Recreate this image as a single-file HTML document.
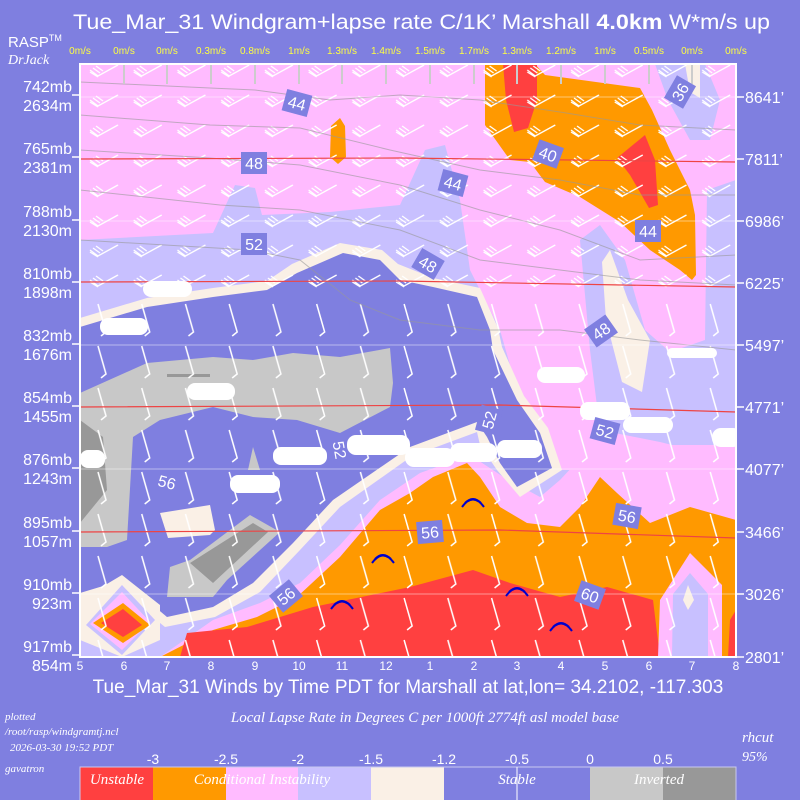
<!DOCTYPE html>
<html><head><meta charset="utf-8"><style>
html,body{margin:0;padding:0;background:#7f7fe0;}
svg{display:block;font-family:"Liberation Sans",sans-serif;}
.it{font-family:"Liberation Serif",serif;font-style:italic;}
</style></head><body>
<svg width="800" height="800" viewBox="0 0 800 800" xmlns="http://www.w3.org/2000/svg">
<defs>
<clipPath id="pc"><rect x="80" y="64" width="656" height="593"/></clipPath>
<pattern id="b1" x="80" y="90" width="43.73" height="30" patternUnits="userSpaceOnUse">
<path d="M10,10 L18,16 L38,5 M13,8 L20,13 M10,12 L18,17 M16,6 L23,11" stroke="#fff" stroke-width="1.3" fill="none"/>
</pattern>
<pattern id="b2" x="80" y="300" width="43.73" height="42" patternUnits="userSpaceOnUse">
<path d="M18,4 L26,32 L21,36" stroke="#fff" stroke-width="1.5" fill="none"/>
</pattern>
</defs>
<rect width="800" height="800" fill="#7f7fe0"/>
<text x="73" y="29" fill="#fff" font-size="21" textLength="697" lengthAdjust="spacingAndGlyphs">Tue_Mar_31 Windgram+lapse rate C/1K’  Marshall <tspan font-weight="bold">4.0km</tspan>  W*m/s up</text>
<text x="8" y="47" fill="#fff" font-size="15">RASP<tspan font-size="9" dy="-6">TM</tspan></text>
<text x="8" y="64" fill="#fff" font-size="14" class="it">DrJack</text>
<g fill="#ffff40" font-size="10" text-anchor="middle">
<text x="80" y="54">0m/s</text><text x="124" y="54">0m/s</text><text x="167" y="54">0m/s</text><text x="211" y="54">0.3m/s</text><text x="255" y="54">0.8m/s</text><text x="299" y="54">1m/s</text><text x="342" y="54">1.3m/s</text><text x="386" y="54">1.4m/s</text><text x="430" y="54">1.5m/s</text><text x="474" y="54">1.7m/s</text><text x="517" y="54">1.3m/s</text><text x="561" y="54">1.2m/s</text><text x="605" y="54">1m/s</text><text x="649" y="54">0.5m/s</text><text x="692" y="54">0m/s</text><text x="736" y="54">0m/s</text>
</g>
<g clip-path="url(#pc)">
<rect x="80" y="64" width="656" height="593" fill="#ffbbff"/>
<polygon fill="#c8c0ff" points="80,240 213,233 235,185 255,188 262,215 330,212 400,205 425,150 445,145 460,200 470,270 500,330 520,400 545,470 736,470 736,657 80,657"/>
<polygon fill="#c8c0ff" points="580,240 600,225 625,260 645,330 670,352 705,340 707,190 736,180 736,440 700,452 660,442 600,430 590,350"/>
<polygon fill="#c8c0ff" points="655,64 705,64 720,100 710,140 690,140 668,100"/>
<polygon fill="#faf0e6" points="685,64 700,64 700,98 690,92"/>
<polygon fill="#faf0e6" points="602,262 610,250 628,300 650,340 642,392 622,382 606,320"/>
<polygon fill="#ffbbff" points="160,657 213,620 260,603 300,583 340,545 380,500 420,473 470,455 505,478 540,497 560,480 590,448 640,445 736,445 736,657"/>
<polygon fill="#ff9900" points="485,64 535,64 545,75 640,88 652,110 670,150 690,190 695,215 696,275 692,280 680,270 650,250 620,222 580,197 545,182 530,162 510,160 485,125"/>
<polygon fill="#ff4040" points="503,64 537,64 537,100 528,128 514,132 506,100"/>
<polygon fill="#ff4040" points="617,158 645,135 655,160 658,205 649,208 630,175"/>
<polygon fill="#ff9900" points="331,126 340,118 345,126 346,157 338,164 330,157"/>
<polygon fill="#ff9900" points="160,657 213,630 257,617 297,597 340,557 380,510 410,493 433,477 467,463 480,477 500,507 527,523 560,527 580,507 600,477 617,493 650,523 690,507 736,520 736,657"/>
<polygon fill="#ff4040" points="180,657 187,633 247,627 313,607 410,587 473,570 510,583 560,597 607,587 653,600 660,657"/>
<polygon fill="#ff4040" points="730,620 736,610 736,657 728,657"/>
<polygon fill="#ffbbff" points="658,657 660,600 690,553 722,585 722,657"/>
<polygon fill="#c8c0ff" points="672,657 673,594 690,573 708,594 708,657"/>
<polygon fill="#faf0e6" points="683,600 688,585 694,600 688,610"/>
<polygon fill="#faf0e6" points="80,318 147,298 213,288 267,281 292,264 340,243 382,250 398,264 433,278 480,288 498,328 502,347 524,396 548,428 562,470 520,497 497,470 480,445 477,432 412,456 340,507 300,550 260,592 215,617 165,627 123,593 80,603"/>
<polygon fill="#7f7fe0" points="80,327 147,307 213,297 267,290 297,273 343,253 380,260 393,273 400,280 433,287 477,297 490,330 493,350 517,400 540,433 552,468 517,487 500,463 487,437 477,422 410,447 333,500 293,543 253,583 213,607 167,617 123,580 80,593"/>
<polygon fill="#c8c8c8" points="80,393 147,363 213,357 253,360 293,353 340,357 390,348 393,383 390,407 340,433 297,420 253,417 213,407 160,420 133,437 127,540 107,547 80,547"/>
<polygon fill="#989898" points="80,420 103,437 107,490 80,523"/>
<rect x="167" y="374" width="43" height="3" fill="#989898"/>
<polygon fill="#c8c8c8" points="190,560 250,515 280,532 227,580 213,597 167,597 170,567"/>
<polygon fill="#989898" points="190,563 253,523 268,532 213,583"/>
<polygon fill="#faf0e6" points="160,513 210,505 215,530 210,535 168,538"/>
<polygon fill="#c8c8c8" points="248,470 253,447 260,470"/>
<polygon fill="#faf0e6" points="80,600 122,575 160,605 160,640 122,657 80,640"/>
<polygon fill="#c8c0ff" points="86,625 122,585 155,620 122,655"/>
<polygon fill="#ffbbff" points="90,624 122,592 150,622 122,650"/>
<polygon fill="#ff9900" points="93,623 123,603 150,625 123,643"/>
<polygon fill="#ff4040" points="101,623 123,609 142,625 123,637"/>
<rect x="80" y="64" width="656" height="236" fill="url(#b1)"/>
<rect x="80" y="300" width="656" height="357" fill="url(#b2)"/>
<g stroke="#999" stroke-width="1" fill="none" opacity="0.6">
<polyline points="80,82 210,88 255,90 330,100 400,95 480,100 560,112 640,125 736,130"/>
<polyline points="80,115 210,125 300,128 390,150 480,170 560,180 640,195 736,195"/>
<polyline points="80,150 210,158 300,165 400,185 480,210 560,230 640,260 736,255"/>
<polyline points="80,190 220,205 300,210 400,230 480,260 560,270 640,280 736,285"/>
<polyline points="80,240 250,250 300,260 350,300 400,320 480,330 560,330 640,340 736,350"/>
</g>
<g stroke="#ee4444" stroke-width="1.2" fill="none">
<polyline points="80,159 400,158 736,162"/>
<polyline points="80,282 400,281 736,287"/>
<polyline points="80,407 500,405 736,412"/>
<polyline points="80,532 500,530 736,538"/>
</g>
<g stroke="#fff" stroke-width="0.8" opacity="0.6">
<line x1="80" y1="97" x2="736" y2="97"/><line x1="80" y1="221" x2="736" y2="221"/><line x1="80" y1="345" x2="736" y2="345"/><line x1="80" y1="469" x2="736" y2="469"/><line x1="80" y1="594" x2="736" y2="594"/>
</g>
<g stroke="#ccc" stroke-width="2">
<line x1="124" y1="64" x2="124" y2="84"/><line x1="167" y1="64" x2="167" y2="84"/><line x1="211" y1="64" x2="211" y2="84"/><line x1="255" y1="64" x2="255" y2="84"/><line x1="299" y1="64" x2="299" y2="84"/><line x1="342" y1="64" x2="342" y2="84"/><line x1="386" y1="64" x2="386" y2="84"/><line x1="430" y1="64" x2="430" y2="84"/><line x1="474" y1="64" x2="474" y2="84"/><line x1="517" y1="64" x2="517" y2="84"/><line x1="561" y1="64" x2="561" y2="84"/><line x1="605" y1="64" x2="605" y2="84"/><line x1="649" y1="64" x2="649" y2="84"/><line x1="692" y1="64" x2="692" y2="84"/>
</g>
<g fill="#fff">
<rect x="100" y="318" width="48" height="17" rx="8"/><rect x="143" y="281" width="49" height="16" rx="8"/><rect x="187" y="383" width="48" height="17" rx="8"/><rect x="80" y="450" width="25" height="18" rx="8"/><rect x="230" y="475" width="50" height="18" rx="8"/><rect x="273" y="447" width="54" height="18" rx="8"/><rect x="347" y="435" width="63" height="20" rx="9"/><rect x="537" y="367" width="48" height="16" rx="8"/><rect x="405" y="448" width="50" height="19" rx="9"/><rect x="450" y="443" width="47" height="19" rx="9"/><rect x="497" y="440" width="45" height="18" rx="8"/><rect x="580" y="402" width="50" height="18" rx="8"/><rect x="623" y="417" width="50" height="16" rx="8"/><rect x="712" y="428" width="30" height="19" rx="9"/><rect x="667" y="348" width="50" height="10" rx="5"/>
</g>
<g stroke="#0000cc" stroke-width="2" fill="none">
<path d="M462,507 Q473,492 484,507 M465,503 Q473,495 481,503"/>
<path d="M372,563 Q383,548 394,563 M375,559 Q383,551 391,559"/>
<path d="M331,609 Q342,594 353,609 M334,605 Q342,597 350,605"/>
<path d="M506,596 Q517,581 528,596 M509,592 Q517,584 525,592"/>
<path d="M550,631 Q561,616 572,631 M553,627 Q561,619 569,627"/>
</g>
<g font-size="16" fill="#fff" text-anchor="middle">
<g transform="translate(297,103) rotate(15)"><rect x="-13" y="-11" width="26" height="22" fill="#7f7fe0"/><text y="6">44</text></g>
<g transform="translate(254,163)"><rect x="-13" y="-11" width="26" height="22" fill="#7f7fe0"/><text y="6">48</text></g>
<g transform="translate(254,244)"><rect x="-13" y="-11" width="26" height="22" fill="#7f7fe0"/><text y="6">52</text></g>
<g transform="translate(548,154) rotate(20)"><rect x="-13" y="-11" width="26" height="22" fill="#7f7fe0"/><text y="6">40</text></g>
<g transform="translate(453,183) rotate(15)"><rect x="-13" y="-11" width="26" height="22" fill="#7f7fe0"/><text y="6">44</text></g>
<g transform="translate(680,92) rotate(-60)"><rect x="-13" y="-11" width="26" height="22" fill="#7f7fe0"/><text y="6">36</text></g>
<g transform="translate(648,231)"><rect x="-13" y="-11" width="26" height="22" fill="#7f7fe0"/><text y="6">44</text></g>
<g transform="translate(428,264) rotate(30)"><rect x="-13" y="-11" width="26" height="22" fill="#7f7fe0"/><text y="6">48</text></g>
<g transform="translate(601,331) rotate(-35)"><rect x="-13" y="-11" width="26" height="22" fill="#7f7fe0"/><text y="6">48</text></g>
<g transform="translate(605,431) rotate(15)"><rect x="-13" y="-11" width="26" height="22" fill="#7f7fe0"/><text y="6">52</text></g>
<g transform="translate(627,516) rotate(10)"><rect x="-13" y="-11" width="26" height="22" fill="#7f7fe0"/><text y="6">56</text></g>
<g transform="translate(590,595) rotate(20)"><rect x="-13" y="-11" width="26" height="22" fill="#7f7fe0"/><text y="6">60</text></g>
<g transform="translate(430,532) rotate(-5)"><rect x="-13" y="-11" width="26" height="22" fill="#7f7fe0"/><text y="6">56</text></g>
<g transform="translate(286,596) rotate(-40)"><rect x="-13" y="-11" width="26" height="22" fill="#7f7fe0"/><text y="6">56</text></g>
<g transform="translate(489,420) rotate(-75)"><rect x="-13" y="-11" width="26" height="22" fill="#7f7fe0"/><text y="6">52</text></g>
<g transform="translate(340,450) rotate(80)"><text y="6">52</text></g>
<g transform="translate(167,482) rotate(15)"><text y="6">56</text></g>
</g>
</g>
<rect x="80" y="64" width="656" height="593" fill="none" stroke="#fff" stroke-width="2"/>
<g stroke="#fff" stroke-width="1.5">
<line x1="72" y1="95" x2="80" y2="95"/><line x1="72" y1="157" x2="80" y2="157"/><line x1="72" y1="220" x2="80" y2="220"/><line x1="72" y1="282" x2="80" y2="282"/><line x1="72" y1="344" x2="80" y2="344"/><line x1="72" y1="406" x2="80" y2="406"/><line x1="72" y1="468" x2="80" y2="468"/><line x1="72" y1="531" x2="80" y2="531"/><line x1="72" y1="593" x2="80" y2="593"/><line x1="72" y1="655" x2="80" y2="655"/>
<line x1="736" y1="97" x2="744" y2="97"/><line x1="736" y1="159" x2="744" y2="159"/><line x1="736" y1="221" x2="744" y2="221"/><line x1="736" y1="283" x2="744" y2="283"/><line x1="736" y1="345" x2="744" y2="345"/><line x1="736" y1="407" x2="744" y2="407"/><line x1="736" y1="469" x2="744" y2="469"/><line x1="736" y1="532" x2="744" y2="532"/><line x1="736" y1="594" x2="744" y2="594"/><line x1="736" y1="657" x2="744" y2="657"/>
</g>
<g fill="#fff" font-size="16" text-anchor="end">
<text x="72" y="92">742mb</text><text x="72" y="111">2634m</text>
<text x="72" y="154">765mb</text><text x="72" y="173">2381m</text>
<text x="72" y="217">788mb</text><text x="72" y="236">2130m</text>
<text x="72" y="279">810mb</text><text x="72" y="298">1898m</text>
<text x="72" y="341">832mb</text><text x="72" y="360">1676m</text>
<text x="72" y="403">854mb</text><text x="72" y="422">1455m</text>
<text x="72" y="465">876mb</text><text x="72" y="484">1243m</text>
<text x="72" y="528">895mb</text><text x="72" y="547">1057m</text>
<text x="72" y="590">910mb</text><text x="72" y="609">923m</text>
<text x="72" y="652">917mb</text><text x="72" y="671">854m</text>
</g>
<g fill="#fff" font-size="16">
<text x="745" y="103">8641’</text><text x="745" y="165">7811’</text><text x="745" y="227">6986’</text><text x="745" y="289">6225’</text><text x="745" y="351">5497’</text><text x="745" y="413">4771’</text><text x="745" y="475">4077’</text><text x="745" y="538">3466’</text><text x="745" y="600">3026’</text><text x="745" y="663">2801’</text>
</g>
<g fill="#fff" font-size="12" text-anchor="middle">
<text x="80" y="670">5</text><text x="124" y="670">6</text><text x="167" y="670">7</text><text x="211" y="670">8</text><text x="255" y="670">9</text><text x="299" y="670">10</text><text x="342" y="670">11</text><text x="386" y="670">12</text><text x="430" y="670">1</text><text x="474" y="670">2</text><text x="517" y="670">3</text><text x="561" y="670">4</text><text x="605" y="670">5</text><text x="649" y="670">6</text><text x="692" y="670">7</text><text x="736" y="670">8</text>
</g>
<text x="408" y="693" fill="#fff" font-size="19" text-anchor="middle">Tue_Mar_31 Winds by Time PDT for Marshall at lat,lon= 34.2102, -117.303</text>
<g fill="#fff" class="it" font-size="11">
<text x="5" y="720">plotted</text><text x="5" y="735">/root/rasp/windgramtj.ncl</text><text x="10" y="751">2026-03-30 19:52 PDT</text><text x="5" y="772">gavatron</text>
</g>
<text x="425" y="722" fill="#fff" class="it" font-size="15" text-anchor="middle">Local Lapse Rate in Degrees C per 1000ft   2774ft asl model base</text>
<text x="742" y="742" fill="#fff" class="it" font-size="15">rhcut</text>
<text x="742" y="761" fill="#fff" class="it" font-size="14">95%</text>
<g fill="#fff" font-size="14" text-anchor="middle">
<text x="153" y="764">-3</text><text x="226" y="764">-2.5</text><text x="298" y="764">-2</text><text x="371" y="764">-1.5</text><text x="444" y="764">-1.2</text><text x="517" y="764">-0.5</text><text x="590" y="764">0</text><text x="663" y="764">0.5</text>
</g>
<rect x="80" y="767" width="73" height="33" fill="#ff4040"/>
<rect x="153" y="767" width="73" height="33" fill="#ff9900"/>
<rect x="226" y="767" width="72" height="33" fill="#ffbbff"/>
<rect x="298" y="767" width="73" height="33" fill="#c8c0ff"/>
<rect x="371" y="767" width="73" height="33" fill="#faf0e6"/>
<rect x="444" y="767" width="146" height="33" fill="#7f7fe0"/>
<rect x="590" y="767" width="73" height="33" fill="#c8c8c8"/>
<rect x="663" y="767" width="73" height="33" fill="#989898"/>
<rect x="80" y="767" width="656" height="40" fill="none" stroke="#c8c8f0" stroke-width="1"/>
<line x1="517" y1="767" x2="517" y2="800" stroke="#fff" stroke-width="1"/>
<g fill="#fff" class="it" font-size="15" text-anchor="middle">
<text x="117" y="784">Unstable</text><text x="262" y="784">Conditional Instability</text><text x="517" y="784">Stable</text><text x="659" y="784">Inverted</text>
</g>
</svg>
</body></html>
